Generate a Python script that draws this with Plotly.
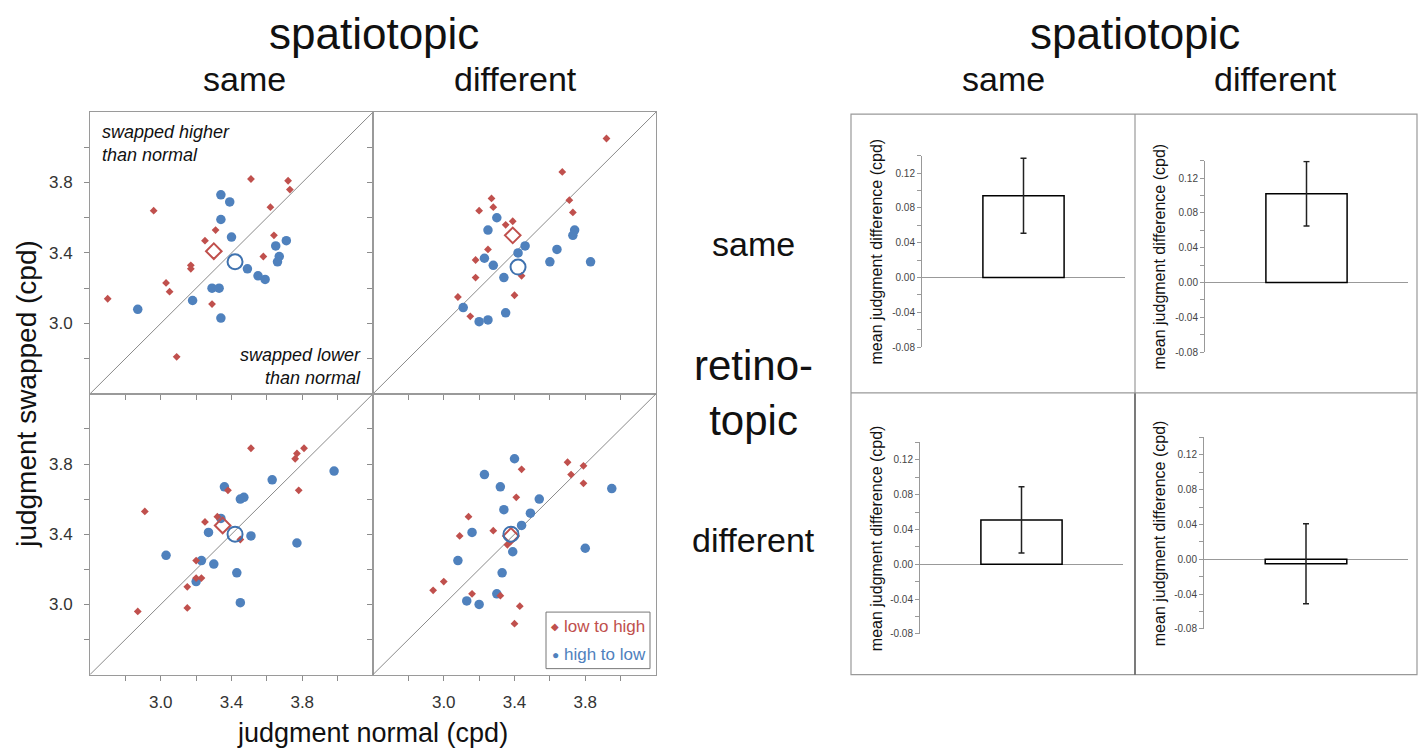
import plotly.graph_objects as go

# ---------------- data ----------------
# top-left: retinotopic same / spatiotopic same
tl_red_x = [3.51, 3.72, 3.73, 3.62, 2.96, 3.31, 3.25, 3.64, 3.58, 3.17, 3.17, 3.03, 3.05, 2.70, 3.29, 3.09]
tl_red_y = [3.82, 3.81, 3.76, 3.66, 3.64, 3.53, 3.47, 3.50, 3.38, 3.33, 3.31, 3.23, 3.18, 3.14, 3.11, 2.81]
tl_blue_x = [3.34, 3.39, 3.34, 3.40, 3.65, 3.71, 3.67, 3.66, 3.49, 3.55, 3.59, 3.29, 3.33, 3.18, 2.87, 3.34]
tl_blue_y = [3.73, 3.69, 3.59, 3.49, 3.44, 3.47, 3.38, 3.35, 3.31, 3.27, 3.25, 3.20, 3.20, 3.13, 3.08, 3.03]
tl_mean_red = [3.30, 3.41]
tl_mean_blue = [3.42, 3.35]

# top-right: retinotopic same / spatiotopic different
tr_red_x = [3.92, 3.67, 3.71, 3.73, 3.27, 3.28, 3.20, 3.39, 3.35, 3.25, 3.18, 3.18, 3.44, 3.40, 3.08, 3.15]
tr_red_y = [4.05, 3.86, 3.70, 3.63, 3.71, 3.66, 3.64, 3.58, 3.56, 3.42, 3.36, 3.26, 3.27, 3.16, 3.15, 3.04]
tr_blue_x = [3.30, 3.25, 3.74, 3.73, 3.46, 3.42, 3.64, 3.60, 3.83, 3.23, 3.28, 3.34, 3.11, 3.35, 3.20, 3.25]
tr_blue_y = [3.60, 3.53, 3.53, 3.50, 3.44, 3.40, 3.42, 3.35, 3.35, 3.37, 3.33, 3.26, 3.09, 3.06, 3.01, 3.02]
tr_mean_red = [3.39, 3.50]
tr_mean_blue = [3.42, 3.32]

# bottom-left: retinotopic different / spatiotopic same
bl_red_x = [3.51, 3.81, 3.77, 3.76, 3.78, 3.38, 2.91, 3.32, 3.25, 3.45, 3.20, 3.20, 3.23, 3.15, 3.15, 2.87]
bl_red_y = [3.89, 3.89, 3.86, 3.83, 3.65, 3.65, 3.53, 3.50, 3.47, 3.37, 3.25, 3.15, 3.15, 3.10, 2.98, 2.96]
bl_blue_x = [3.98, 3.63, 3.36, 3.45, 3.47, 3.27, 3.51, 3.77, 3.03, 3.23, 3.30, 3.20, 3.43, 3.45, 3.34]
bl_blue_y = [3.76, 3.71, 3.67, 3.60, 3.61, 3.41, 3.39, 3.35, 3.28, 3.25, 3.23, 3.13, 3.18, 3.01, 3.49]
bl_mean_red = [3.35, 3.45]
bl_mean_blue = [3.42, 3.40]

# bottom-right: retinotopic different / spatiotopic different
br_red_x = [3.70, 3.79, 3.72, 3.79, 3.44, 3.41, 3.14, 3.28, 3.09, 3.36, 3.00, 2.94, 3.16, 3.32, 3.43, 3.40]
br_red_y = [3.81, 3.79, 3.74, 3.69, 3.77, 3.61, 3.50, 3.42, 3.39, 3.34, 3.13, 3.08, 3.06, 3.05, 2.99, 2.89]
br_blue_x = [3.40, 3.23, 3.32, 3.95, 3.54, 3.34, 3.49, 3.44, 3.16, 3.80, 3.39, 3.08, 3.33, 3.30, 3.13, 3.20]
br_blue_y = [3.83, 3.74, 3.67, 3.66, 3.60, 3.54, 3.52, 3.45, 3.41, 3.32, 3.30, 3.25, 3.18, 3.06, 3.02, 3.00]
br_mean_red = [3.38, 3.39]
br_mean_blue = [3.38, 3.40]

# bar panels (order: TL, TR, BL, BR)
bar_means = [0.094, 0.102, 0.051, -0.005]
bar_errors = [0.043, 0.037, 0.038, 0.046]

scatter_range = [2.6, 4.2]
scatter_ticks = [2.8, 3.0, 3.2, 3.4, 3.6, 3.8, 4.0]
scatter_ticklabels = ["", "3.0", "", "3.4", "", "3.8", ""]
bar_range = [-0.08, 0.14]
bar_ticks = [-0.08, -0.06, -0.04, -0.02, 0.00, 0.02, 0.04, 0.06, 0.08, 0.10, 0.12, 0.14]
bar_ticklabels = ["-0.08", "", "-0.04", "", "0.00", "", "0.04", "", "0.08", "", "0.12", ""]

col_labels = ["same", "different"]
row_labels = ["same", "retino-<br>topic", "different"]
legend_labels = ["low to high", "high to low"]

# ---------------- style / layout ----------------
W, H = 1422, 753
FONT = "Liberation Sans, Arial, Helvetica, sans-serif"
RED = "#C0504D"
BLUE = "#4F81BD"
GRID = "#9a9a9a"


def fx(p):
    return p / W


def fy(p):
    return 1 - p / H


fig = go.Figure()

scatter_panels = [
    (tl_red_x, tl_red_y, tl_blue_x, tl_blue_y, tl_mean_red, tl_mean_blue),
    (tr_red_x, tr_red_y, tr_blue_x, tr_blue_y, tr_mean_red, tr_mean_blue),
    (bl_red_x, bl_red_y, bl_blue_x, bl_blue_y, bl_mean_red, bl_mean_blue),
    (br_red_x, br_red_y, br_blue_x, br_blue_y, br_mean_red, br_mean_blue),
]
scatter_cols = [(90, 373), (373, 656)]
scatter_rows = [(113, 397), (397, 680)]

layout_axes = {}
for i, (rx, ry, bx, by, mr, mb) in enumerate(scatter_panels):
    k = i + 1
    r, c = divmod(i, 2)
    xs = "x" if k == 1 else f"x{k}"
    ys = "y" if k == 1 else f"y{k}"
    # diagonal y = x
    fig.add_trace(go.Scatter(x=scatter_range, y=scatter_range, mode="lines",
                             line=dict(color="#8a8a8a", width=1), xaxis=xs, yaxis=ys,
                             showlegend=False, hoverinfo="skip"))
    fig.add_trace(go.Scatter(x=bx, y=by, mode="markers", name="high to low",
                             marker=dict(symbol="circle", size=9.5, color=BLUE),
                             xaxis=xs, yaxis=ys, showlegend=False))
    fig.add_trace(go.Scatter(x=rx, y=ry, mode="markers", name="low to high",
                             marker=dict(symbol="diamond", size=6, color=RED),
                             xaxis=xs, yaxis=ys, showlegend=False))
    fig.add_trace(go.Scatter(x=[mr[0]], y=[mr[1]], mode="markers", name="low to high mean",
                             marker=dict(symbol="diamond-open", size=12, color=RED,
                                         line=dict(width=2, color=RED)),
                             xaxis=xs, yaxis=ys, showlegend=False))
    fig.add_trace(go.Scatter(x=[mb[0]], y=[mb[1]], mode="markers", name="high to low mean",
                             marker=dict(symbol="circle-open", size=15, color="#3F72AF",
                                         line=dict(width=2, color="#3F72AF")),
                             xaxis=xs, yaxis=ys, showlegend=False))
    x0, x1 = scatter_cols[c]
    y0, y1 = scatter_rows[r]
    common = dict(range=scatter_range, tickvals=scatter_ticks, ticktext=scatter_ticklabels,
                  ticks="outside", ticklen=5, tickwidth=1, tickcolor="#8c8c8c",
                  showline=True, linecolor=GRID, linewidth=1, mirror=True,
                  showgrid=False, zeroline=False,
                  tickfont=dict(size=17, color="#333", family=FONT))
    layout_axes["xaxis" if k == 1 else f"xaxis{k}"] = dict(
        common, domain=[fx(x0), fx(x1)], anchor=ys, showticklabels=(r == 1),
        ticklabelstandoff=7)
    layout_axes["yaxis" if k == 1 else f"yaxis{k}"] = dict(
        common, domain=[fy(y1), fy(y0)], anchor=xs, showticklabels=(c == 0),
        ticklabelstandoff=8)

# bar panels: (x-domain px, y px of 0.14, y px of -0.08)
bar_geom = [
    ((922, 1125), 157, 350),
    ((1205, 1408), 162, 355),
    ((920, 1123), 446, 639),
    ((1204, 1408), 441, 634),
]
bar_title_x = [876, 1159, 876, 1159]
for j, (val, err) in enumerate(zip(bar_means, bar_errors)):
    k = j + 5
    xs, ys = f"x{k}", f"y{k}"
    fig.add_trace(go.Bar(x=[0], y=[val], width=0.4,
                         marker=dict(color="white", line=dict(color="black", width=1.5)),
                         error_y=dict(type="data", array=[err], color="#222",
                                      thickness=1.5, width=3),
                         xaxis=xs, yaxis=ys, showlegend=False))
    (xa, xb), ytop, ybot = bar_geom[j]
    layout_axes[f"xaxis{k}"] = dict(domain=[fx(xa), fx(xb)], anchor=ys, range=[-0.5, 0.5],
                                    showline=False, showticklabels=False, ticks="",
                                    showgrid=False, zeroline=False)
    layout_axes[f"yaxis{k}"] = dict(domain=[fy(ybot), fy(ytop)], anchor=xs, range=bar_range,
                                    tickvals=bar_ticks, ticktext=bar_ticklabels,
                                    ticks="outside", ticklen=4, tickcolor="#999",
                                    showline=True, linecolor="#999", linewidth=1,
                                    zeroline=True, zerolinecolor="#999", zerolinewidth=1,
                                    showgrid=False,
                                    tickfont=dict(size=10, color="#444", family=FONT))

annotations = []


def txt(text, x, y, size, color="#111", **kw):
    d = dict(text=text, x=fx(x), y=fy(y), xref="paper", yref="paper", showarrow=False,
             font=dict(size=size, color=color, family=FONT), xanchor="center", yanchor="middle")
    d.update(kw)
    annotations.append(d)


# headings
txt("spatiotopic", 374, 34, 44)
txt(col_labels[0], 244, 80, 34)
txt(col_labels[1], 515, 80, 34)
txt("spatiotopic", 1135, 34, 44)
txt(col_labels[0], 1003, 80, 34)
txt(col_labels[1], 1275, 80, 34)
# row labels
txt(row_labels[0], 753, 246, 34)
txt(row_labels[1], 753, 396, 42)
txt(row_labels[2], 753, 544, 34)
# axis titles
txt("judgment swapped (cpd)", 27, 397, 28, textangle=-90)
txt("judgment normal (cpd)", 372, 739, 27)
# in-panel notes
txt("<i>swapped higher<br>than normal</i>", 100, 121, 18, xanchor="left", yanchor="top", align="left")
txt("<i>swapped lower<br>than normal</i>", 363, 393, 18, xanchor="right", yanchor="bottom", align="right")
# bar titles
for j in range(4):
    (xa, xb), ytop, ybot = bar_geom[j]
    txt("mean judgment difference (cpd)", bar_title_x[j], (ytop + ybot) / 2, 16, textangle=-90)
# legend (manual)
txt("\u25c6", 555, 632, 10, color=RED)
txt(legend_labels[0], 562, 632, 17, color=RED, xanchor="left")
txt("\u25cf", 555, 660, 12, color=BLUE)
txt(legend_labels[1], 562, 660, 17, color=BLUE, xanchor="left")

shapes = [
    # legend box
    dict(type="rect", xref="paper", yref="paper", x0=fx(546), x1=fx(650), y0=fy(674), y1=fy(617),
         line=dict(color="#777", width=1)),
    # bar panel frame
    dict(type="rect", xref="paper", yref="paper", x0=fx(851), x1=fx(1417), y0=fy(680), y1=fy(115),
         line=dict(color="#999", width=1.2)),
    dict(type="line", xref="paper", yref="paper", x0=fx(1135), x1=fx(1135), y0=fy(396), y1=fy(115),
         line=dict(color="#999", width=1.2)),
    dict(type="line", xref="paper", yref="paper", x0=fx(1135), x1=fx(1135), y0=fy(680), y1=fy(396),
         line=dict(color="#222", width=1.2)),
    dict(type="line", xref="paper", yref="paper", x0=fx(851), x1=fx(1417), y0=fy(396), y1=fy(396),
         line=dict(color="#999", width=1.2)),
]

fig.update_layout(
    width=W, height=H, autosize=False,
    margin=dict(l=0, r=0, t=0, b=0),
    paper_bgcolor="white", plot_bgcolor="white",
    font=dict(family=FONT, color="#111"),
    annotations=annotations, shapes=shapes,
    showlegend=False,
    **layout_axes,
)

fig.write_html("out.html", config={"displayModeBar": False},
               post_script="document.body.style.margin='0';document.body.style.overflow='hidden';")
